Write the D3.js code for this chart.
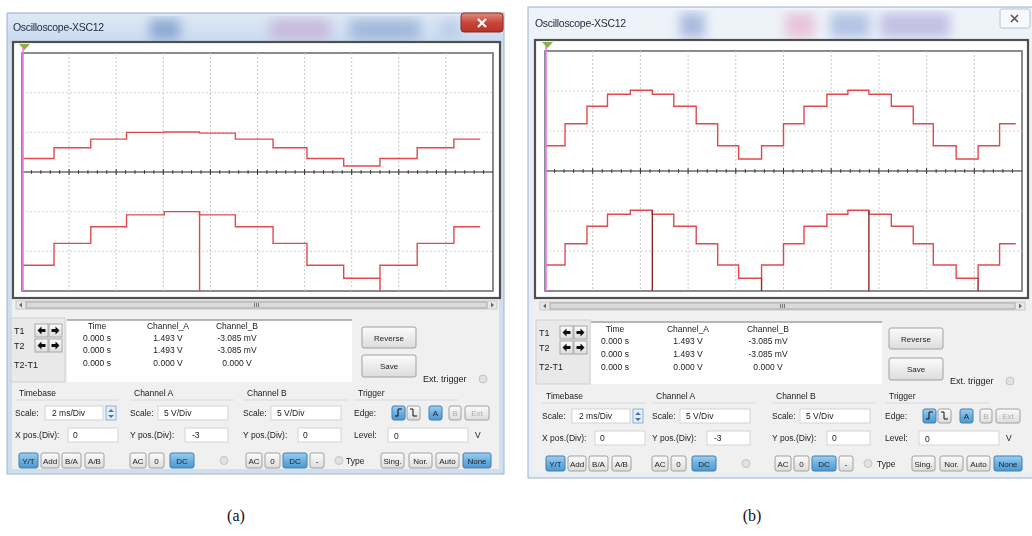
<!DOCTYPE html>
<html lang="en">
<head>
<meta charset="UTF-8">
<title>Oscilloscope-XSC12</title>
<script src="https://d3js.org/d3.v7.min.js"></script>
<style>
  body { margin: 0; background: #fff; }
  svg { display: block; font-family: "Liberation Sans", Arial, sans-serif; }
</style>
</head>
<body>
<svg width="1032" height="536"></svg>
<script>
// ---- data (time in ms, 2 ms/Div; levels in screen divisions) ----
const stepTimesA = [0, 1.36, 2.92, 4.44, 6.04, 7.54, 9.06, 10.66, 12.1, 13.66, 15.2, 16.78, 18.34, 19.46];
const chanA_a = [0.34, 0.61, 0.83, 1.0, 1.01, 0.98, 0.83, 0.61, 0.34, 0.15, 0.34, 0.61, 0.83];
const chanB_a = [-2.35, -1.8, -1.38, -1.08, -1.0, -1.08, -1.38, -1.8, -2.35, -2.68, -2.35, -1.8, -1.38];
const dropTimesA = [7.54, 15.2];

const stepTimesB = [0, 0.84, 1.76, 2.62, 3.58, 4.5, 5.4, 6.34, 7.24, 8.12, 9.08, 10.0, 10.86, 11.82,
                    12.7, 13.58, 14.52, 15.44, 16.28, 17.24, 18.16, 19.06, 19.74];
const chanA_b = [0.63, 1.18, 1.62, 1.92, 2.02, 1.92, 1.62, 1.18, 0.63, 0.3, 0.63,
                 1.18, 1.62, 1.92, 2.02, 1.92, 1.62, 1.18, 0.63, 0.3, 0.63, 1.18];
const chanB_b = [-2.35, -1.82, -1.38, -1.08, -0.98, -1.08, -1.38, -1.82, -2.35, -2.68, -2.35,
                 -1.82, -1.38, -1.08, -0.98, -1.08, -1.38, -1.82, -2.35, -2.68, -2.35, -1.82];
const dropTimesB = [4.5, 9.08, 13.58, 18.16];

const readHeads = ["Time", "Channel_A", "Channel_B"];
const readRows = [["0.000 s", "1.493 V", "-3.085 mV"],
                  ["0.000 s", "1.493 V", "-3.085 mV"],
                  ["0.000 s", "0.000 V", "0.000 V"]];
const timeDomain = [0, 20];
const divDomain = [-3, 3];

// ---- window layouts ----
const layouts = [
  { win: {x: 7, y: 13, w: 497, h: 461}, titleH: 29, titleX: 13, titleY: 31, close: "red",
    frame: {x: 13, y: 42, w: 487, h: 256}, plot: {x: 22, y: 53, w: 471, h: 238},
    scroll: {x: 16, y: 301, w: 481}, tArea: {x: 11, y: 318}, readout: {x: 67, y: 320, w: 285, h: 62},
    cols: [97, 168, 237], headY: 329, rowY: [341, 353, 366],
    rev: {x: 362, y: 327}, save: {x: 362, y: 355}, ext: {x: 423, y: 382},
    sec: [15, 130, 243, 354], secY: 396, drop: "#d84848", blobs: [[150, 30, "#6f92c4"], [270, 60, "#c2aad2"], [350, 70, "#8ea8d0"], [440, 20, "#b3c8e4"]],
    caption: "(a)", capX: 236 },
  { win: {x: 528, y: 7, w: 510, h: 471}, titleH: 33, titleX: 535, titleY: 27, close: "white",
    frame: {x: 535, y: 40, w: 493, h: 258}, plot: {x: 545, y: 51, w: 477, h: 240},
    scroll: {x: 540, y: 302, w: 485}, tArea: {x: 536, y: 320}, readout: {x: 591, y: 322, w: 291, h: 62},
    cols: [615, 688, 768], headY: 332, rowY: [344, 357, 370],
    rev: {x: 889, y: 328}, save: {x: 889, y: 358}, ext: {x: 950, y: 384},
    sec: [542, 652, 772, 885], secY: 399, drop: "#8c2c2c", blobs: [[680, 25, "#8aa2d4"], [785, 30, "#e4b0cc"], [830, 40, "#9ab0dc"], [880, 70, "#b0aadc"]],
    caption: "(b)", capX: 752 }
];
const panels = [
  { times: stepTimesA, a: chanA_a, b: chanB_a, drops: dropTimesA },
  { times: stepTimesB, a: chanA_b, b: chanB_b, drops: dropTimesB }
];

const svg = d3.select("svg");
const defs = svg.append("defs");
const grad = (id, stops) => {
  const lg = defs.append("linearGradient").attr("id", id).attr("x1", 0).attr("y1", 0).attr("x2", 0).attr("y2", 1);
  stops.forEach(s => lg.append("stop").attr("offset", s[0]).attr("stop-color", s[1]));
};
grad("gBtn", [[0, "#fbfbfb"], [0.5, "#ececec"], [1, "#dcdcdc"]]);
grad("gBlue", [[0, "#9fd0f0"], [0.5, "#6cb0e0"], [1, "#4d98cf"]]);
grad("gRed", [[0, "#e38a7e"], [0.5, "#c9473a"], [1, "#b53226"]]);
grad("gTitle", [[0, "#dfe9f6"], [1, "#c8daef"]]);
defs.append("filter").attr("id", "soft").append("feGaussianBlur").attr("stdDeviation", 0.45);
defs.append("filter").attr("id", "blob").append("feGaussianBlur").attr("stdDeviation", 6);

function button(g, x, y, w, h, label, on, off) {
  g.append("rect").attr("x", x).attr("y", y).attr("width", w).attr("height", h).attr("rx", 2)
    .attr("fill", on ? "url(#gBlue)" : "url(#gBtn)").attr("stroke", on ? "#3d7fb3" : "#a0a0a0");
  if (label) g.append("text").attr("x", x + w / 2).attr("y", y + h / 2 + 3).attr("text-anchor", "middle")
    .attr("font-size", 8).attr("fill", off ? "#b0b0b0" : "#222").text(label);
}
function textBox(g, x, y, w, h) {
  g.append("rect").attr("x", x).attr("y", y).attr("width", w).attr("height", h)
    .attr("fill", "#fff").attr("stroke", "#d4d4d4");
}
function label(g, x, y, t, size, anchor) {
  g.append("text").attr("x", x).attr("y", y).attr("font-size", size || 8.5).attr("fill", "#1a1a1a")
    .attr("text-anchor", anchor || "start").text(t);
}
function radio(g, x, y) {
  g.append("circle").attr("cx", x).attr("cy", y).attr("r", 4).attr("fill", "#e2e2e2").attr("stroke", "#c4c4c4");
}

function drawScope(L, D) {
  const g = svg.append("g").attr("filter", "url(#soft)");
  const W = L.win;
  // window chrome
  g.append("rect").attr("x", W.x).attr("y", W.y).attr("width", W.w).attr("height", W.h)
    .attr("fill", L.close === "red" ? "#cfdff0" : "#e8eef6").attr("stroke", "#9fb4cc");
  g.append("rect").attr("x", W.x + 1).attr("y", W.y + 1).attr("width", W.w - 2).attr("height", L.titleH)
    .attr("fill", L.close === "red" ? "url(#gTitle)" : "#eef3f9");
  const bl = g.append("g").attr("filter", "url(#blob)").attr("opacity", 0.7);
  L.blobs.forEach(b => bl.append("rect").attr("x", b[0]).attr("y", W.y + 6).attr("width", b[1])
    .attr("height", L.titleH - 8).attr("fill", b[2]));
  g.append("text").attr("x", L.titleX).attr("y", L.titleY).attr("font-size", 10.5).attr("fill", "#1c2a3a")
    .attr("letter-spacing", -0.3).text("Oscilloscope-XSC12");
  if (L.close === "red") {
    const cx = W.x + W.w - 43;
    g.append("rect").attr("x", cx).attr("y", W.y).attr("width", 42).attr("height", 19).attr("rx", 3)
      .attr("fill", "url(#gRed)").attr("stroke", "#8a2a22");
    g.append("path").attr("d", `M${cx + 17},${W.y + 6}l8,8M${cx + 25},${W.y + 6}l-8,8`)
      .attr("stroke", "#fff").attr("stroke-width", 2.2);
  } else {
    const cx = 1000;
    g.append("rect").attr("x", cx).attr("y", W.y + 2).attr("width", 30).attr("height", 19).attr("rx", 2)
      .attr("fill", "#f7f9fc").attr("stroke", "#b8c2ce");
    g.append("path").attr("d", `M${cx + 11},${W.y + 8}l7,7M${cx + 18},${W.y + 8}l-7,7`)
      .attr("stroke", "#555").attr("stroke-width", 1.6);
  }
  // content
  g.append("rect").attr("x", W.x + 5).attr("y", W.y + L.titleH).attr("width", W.w - 10)
    .attr("height", W.h - L.titleH - 5).attr("fill", "#f0f0f0");

  // screen
  const F = L.frame, P = L.plot;
  g.append("rect").attr("x", F.x).attr("y", F.y).attr("width", F.w).attr("height", F.h)
    .attr("fill", "#fff").attr("stroke", "#505050").attr("stroke-width", 2.2);
  g.append("rect").attr("x", P.x).attr("y", P.y).attr("width", P.w).attr("height", P.h)
    .attr("fill", "#fff").attr("stroke", "#707070").attr("stroke-width", 1.6);

  const x = d3.scaleLinear().domain(timeDomain).range([P.x, P.x + P.w]);
  const y = d3.scaleLinear().domain(divDomain).range([P.y + P.h, P.y]);

  const grid = g.append("g");
  grid.selectAll(".vg").data(d3.range(2, 20, 2)).enter().append("line")
    .attr("x1", d => x(d)).attr("x2", d => x(d)).attr("y1", P.y).attr("y2", P.y + P.h)
    .attr("stroke", "#c8c8c8").attr("stroke-dasharray", "2,2");
  grid.selectAll(".hg").data([-2, -1, 1, 2]).enter().append("line")
    .attr("x1", P.x).attr("x2", P.x + P.w).attr("y1", d => y(d)).attr("y2", d => y(d))
    .attr("stroke", "#d2d2d2").attr("stroke-dasharray", "2,2");
  grid.append("line").attr("x1", P.x).attr("x2", P.x + P.w).attr("y1", y(0)).attr("y2", y(0))
    .attr("stroke", "#222").attr("stroke-width", 1.2);
  grid.selectAll(".tk").data(d3.range(0.4, 20, 0.4)).enter().append("line")
    .attr("x1", d => x(d)).attr("x2", d => x(d))
    .attr("y1", d => y(0) - (Math.abs(d / 2 - Math.round(d / 2)) < 0.01 ? 3 : 1.8))
    .attr("y2", d => y(0) + (Math.abs(d / 2 - Math.round(d / 2)) < 0.01 ? 3 : 1.8))
    .attr("stroke", "#333");

  // traces
  const n = D.times.length - 1;
  const pts = lv => lv.map((v, i) => [D.times[i], v]).concat([[D.times[n], lv[n - 1]]]);
  const line = d3.line().x(d => x(d[0])).y(d => y(d[1])).curve(d3.curveStepAfter);
  g.append("path").attr("d", line(pts(D.a))).attr("fill", "none").attr("stroke", "#e24a4f").attr("stroke-width", 1.4);
  g.append("path").attr("d", line(pts(D.b))).attr("fill", "none").attr("stroke", "#e24a4f").attr("stroke-width", 1.4);
  D.drops.forEach(t => {
    const i = D.times.indexOf(t);
    g.append("line").attr("x1", x(t)).attr("x2", x(t)).attr("y1", y(D.b[i - 1])).attr("y2", y(divDomain[0]))
      .attr("stroke", L.drop).attr("stroke-width", 1.4);
  });
  // cursor
  g.append("line").attr("x1", x(0) + 1).attr("x2", x(0) + 1).attr("y1", F.y + 2).attr("y2", P.y + P.h)
    .attr("stroke", "#ee7ae8").attr("stroke-width", 1.6);
  g.append("path").attr("d", `M${x(0) - 3},${F.y + 2}h11l-5.5,6z`).attr("fill", "#8fb04a");

  // scrollbar
  const S = L.scroll;
  g.append("rect").attr("x", S.x).attr("y", S.y).attr("width", S.w).attr("height", 8).attr("fill", "#e8e8e8").attr("stroke", "#c8c8c8");
  g.append("rect").attr("x", S.x + 10).attr("y", S.y + 1).attr("width", S.w - 20).attr("height", 6).attr("fill", "#dadada").attr("stroke", "#a8a8a8");
  const mid = S.x + S.w / 2;
  [-2, 0, 2].forEach(o => g.append("line").attr("x1", mid + o).attr("x2", mid + o).attr("y1", S.y + 2).attr("y2", S.y + 6).attr("stroke", "#777"));
  g.append("path").attr("d", `M${S.x + 3},${S.y + 4}l3,-2.5v5z M${S.x + S.w - 3},${S.y + 4}l-3,-2.5v5z`).attr("fill", "#666");

  // T1 / T2 area
  const T = L.tArea;
  g.append("rect").attr("x", T.x).attr("y", T.y).attr("width", 54).attr("height", 64).attr("fill", "#e9e9e9").attr("stroke", "#d0d0d0");
  label(g, T.x + 3, T.y + 16, "T1", 9);
  label(g, T.x + 3, T.y + 31, "T2", 9);
  label(g, T.x + 3, T.y + 50, "T2-T1", 9);
  [T.y + 6, T.y + 21].forEach(by => {
    [0, 1].forEach(k => {
      const bx = T.x + 24 + k * 14;
      g.append("rect").attr("x", bx).attr("y", by).attr("width", 13).attr("height", 13).attr("fill", "url(#gBtn)").attr("stroke", "#a8a8a8");
      const c = bx + 6.5, m = by + 6.5;
      const d = k === 0 ? `M${c - 4},${m}l4,-4v2.5h4v3h-4v2.5z` : `M${c + 4},${m}l-4,-4v2.5h-4v3h4v2.5z`;
      g.append("path").attr("d", d).attr("fill", "#111");
    });
  });

  // readout
  const R = L.readout;
  g.append("rect").attr("x", R.x).attr("y", R.y).attr("width", R.w).attr("height", R.h).attr("fill", "#fff");
  g.append("line").attr("x1", R.x).attr("x2", R.x + R.w).attr("y1", R.y).attr("y2", R.y).attr("stroke", "#a0a0a0").attr("stroke-width", 1.5);
  readHeads.forEach((h, j) => label(g, L.cols[j], L.headY, h, 8.5, "middle"));
  readRows.forEach((row, i) => row.forEach((v, j) => label(g, L.cols[j], L.rowY[i], v, 8.5, "middle")));

  button(g, L.rev.x, L.rev.y, 54, 21, "Reverse");
  button(g, L.save.x, L.save.y, 54, 22, "Save");
  label(g, L.ext.x, L.ext.y, "Ext. trigger", 9);
  radio(g, L.ext.x + 60, L.ext.y - 3);

  // control sections
  const [s0, s1, s2, s3] = L.sec, hy = L.secY, r1 = hy + 20, r2 = hy + 42, r3 = hy + 57;
  [["Timebase", s0], ["Channel A", s1], ["Channel B", s2], ["Trigger", s3]].forEach(([t, sx]) => {
    label(g, sx + 4, hy, t);
    g.append("line").attr("x1", sx).attr("x2", sx + 104).attr("y1", hy + 4).attr("y2", hy + 4).attr("stroke", "#d2d8e0");
  });
  // Timebase
  label(g, s0, r1, "Scale:"); textBox(g, s0 + 30, r1 - 10, 58, 14); label(g, s0 + 37, r1, "2 ms/Div");
  g.append("rect").attr("x", s0 + 91).attr("y", r1 - 10).attr("width", 10).attr("height", 14).attr("fill", "#e4eef8").attr("stroke", "#8fb0d0");
  g.append("path").attr("d", `M${s0 + 93},${r1 - 4}l3,-3l3,3z M${s0 + 93},${r1 - 1}l3,3l3,-3z`).attr("fill", "#4a78a8");
  label(g, s0, r2, "X pos.(Div):"); textBox(g, s0 + 53, r2 - 10, 50, 14); label(g, s0 + 58, r2, "0");
  button(g, s0 + 4, r3, 19, 15, "Y/T", true);
  button(g, s0 + 26, r3, 18, 15, "Add");
  button(g, s0 + 47, r3, 19, 15, "B/A");
  button(g, s0 + 70, r3, 19, 15, "A/B");
  // Channel A
  label(g, s1, r1, "Scale:"); textBox(g, s1 + 28, r1 - 10, 70, 14); label(g, s1 + 34, r1, "5 V/Div");
  label(g, s1, r2, "Y pos.(Div):"); textBox(g, s1 + 55, r2 - 10, 43, 14); label(g, s1 + 62, r2, "-3");
  button(g, s1, r3, 16, 15, "AC");
  button(g, s1 + 19, r3, 15, 15, "0");
  button(g, s1 + 40, r3, 24, 15, "DC", true);
  radio(g, s1 + 94, r3 + 7.5);
  // Channel B
  label(g, s2, r1, "Scale:"); textBox(g, s2 + 28, r1 - 10, 70, 14); label(g, s2 + 34, r1, "5 V/Div");
  label(g, s2, r2, "Y pos.(Div):"); textBox(g, s2 + 55, r2 - 10, 43, 14); label(g, s2 + 60, r2, "0");
  button(g, s2 + 3, r3, 16, 15, "AC");
  button(g, s2 + 22, r3, 15, 15, "0");
  button(g, s2 + 40, r3, 24, 15, "DC", true);
  button(g, s2 + 67, r3, 14, 15, "-");
  radio(g, s2 + 96, r3 + 7.5);
  // Trigger
  label(g, s3, r1, "Edge:");
  button(g, s3 + 38, r1 - 10, 13, 14, "", true);
  g.append("path").attr("d", `M${s3 + 41},${r1}h3v-7h4`).attr("fill", "none").attr("stroke", "#111");
  button(g, s3 + 53, r1 - 10, 13, 14, "");
  g.append("path").attr("d", `M${s3 + 56},${r1 - 7}h3v7h4`).attr("fill", "none").attr("stroke", "#111");
  button(g, s3 + 75, r1 - 10, 13, 14, "A", true);
  button(g, s3 + 95, r1 - 10, 12, 14, "B", false, true);
  button(g, s3 + 111, r1 - 10, 24, 14, "Ext", false, true);
  label(g, s3, r2, "Level:"); textBox(g, s3 + 34, r2 - 10, 80, 14); label(g, s3 + 40, r2 + 1, "0");
  label(g, s3 + 121, r2, "V");
  label(g, s3 - 8, r3 + 11, "Type");
  button(g, s3 + 27, r3, 23, 15, "Sing.");
  button(g, s3 + 55, r3, 23, 15, "Nor.");
  button(g, s3 + 82, r3, 23, 15, "Auto");
  button(g, s3 + 109, r3, 28, 15, "None", true);

  // caption
  svg.append("text").attr("x", L.capX).attr("y", 521).attr("text-anchor", "middle")
    .attr("font-family", "Liberation Serif, serif").attr("font-size", 16).attr("fill", "#111").text(L.caption);
}

layouts.forEach((L, i) => drawScope(L, panels[i]));
</script>
</body>
</html>
